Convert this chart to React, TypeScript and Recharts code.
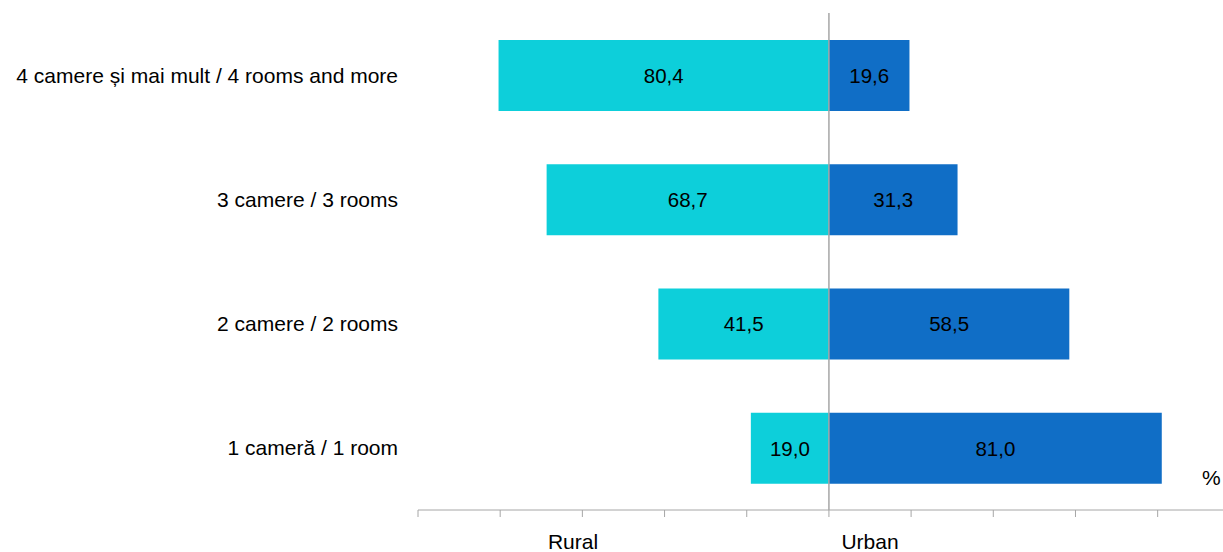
import { Bar, BarChart, LabelList, ReferenceLine, XAxis, YAxis } from 'recharts';

const categories = [
  '4 camere și mai mult / 4 rooms and more',
  '3 camere / 3 rooms',
  '2 camere / 2 rooms',
  '1 cameră / 1 room',
];
const ruralValues = [80.4, 68.7, 41.5, 19.0];
const urbanValues = [19.6, 31.3, 58.5, 81.0];
const axisTicks = [-100, -80, -60, -40, -20, 0, 20, 40, 60, 80];

const data = categories.map((name, i) => ({
  name,
  rural: -ruralValues[i],
  urban: urbanValues[i],
}));

const fmt = (v: any) => Math.abs(Number(v)).toFixed(1).replace('.', ',');

const font = "'Liberation Sans', Arial, sans-serif";

export default function App() {
  return (
    <div style={{ position: 'absolute', left: 0, top: 0, width: 1223, height: 552, fontFamily: font }}>
      <BarChart
        width={1223}
        height={552}
        data={data}
        layout='vertical'
        stackOffset='sign'
        margin={{ top: 13, right: 0, bottom: 0, left: 0 }}
      >
        <XAxis
          type='number'
          domain={[-100, 95.9]}
          ticks={axisTicks}
          allowDataOverflow
          height={42}
          stroke='#A6A6A6'
          tickSize={7}
          tickFormatter={() => ''}
        />
        <YAxis
          type='category'
          dataKey='name'
          width={418}
          axisLine={false}
          tickLine={false}
          tickSize={0}
          tickMargin={20}
          tick={{ fill: '#000', fontSize: 21, fontFamily: font }}
        />
        <Bar dataKey='rural' stackId='a' fill='#0DCFDA' barSize={71} isAnimationActive={false}>
          <LabelList dataKey='rural' position='center' formatter={fmt} fill='#000' fontSize={20.5} fontFamily={font} />
        </Bar>
        <Bar dataKey='urban' stackId='a' fill='#106EC6' barSize={71} isAnimationActive={false}>
          <LabelList dataKey='urban' position='center' formatter={fmt} fill='#000' fontSize={20.5} fontFamily={font} />
        </Bar>
        <ReferenceLine x={0} stroke='#A6A6A6' strokeWidth={1.5} />
      </BarChart>
      <div style={{ position: 'absolute', left: 573, top: 530, fontSize: 21, color: '#000', transform: 'translateX(-50%)' }}>Rural</div>
      <div style={{ position: 'absolute', left: 870, top: 530, fontSize: 21, color: '#000', transform: 'translateX(-50%)' }}>Urban</div>
      <div style={{ position: 'absolute', left: 1202, top: 466, fontSize: 21, color: '#000' }}>%</div>
    </div>
  );
}
